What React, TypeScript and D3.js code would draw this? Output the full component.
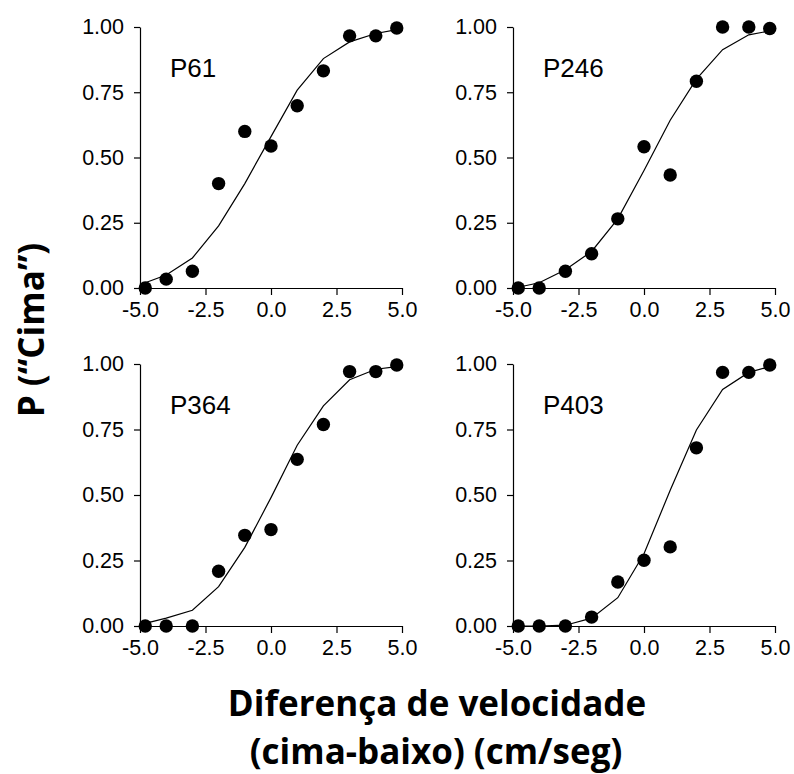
import React, { useEffect, useRef } from "react";
import * as d3 from "d3";

// velocity difference levels (cm/seg)
const xLevels = [-4.8, -4, -3, -2, -1, 0, 1, 2, 3, 4, 4.8];

const panelNames = ["P61", "P246", "P364", "P403"];

// observed proportions "Cima"
const obsP61 = [0, 0.034, 0.064, 0.4, 0.6, 0.544, 0.698, 0.832, 0.966, 0.966, 0.996];
const obsP246 = [0, 0, 0.064, 0.131, 0.265, 0.541, 0.433, 0.792, 1.0, 1.0, 0.994];
const obsP364 = [0, 0, 0, 0.209, 0.346, 0.368, 0.636, 0.769, 0.971, 0.971, 0.996];
const obsP403 = [0, 0, 0, 0.034, 0.168, 0.251, 0.302, 0.68, 0.968, 0.968, 0.996];

// fitted curves
const fitP61 = [0.02, 0.05, 0.115, 0.238, 0.4, 0.58, 0.758, 0.879, 0.943, 0.975, 0.99];
const fitP246 = [0.003, 0.02, 0.07, 0.14, 0.265, 0.45, 0.643, 0.8, 0.913, 0.97, 0.985];
const fitP364 = [0.01, 0.03, 0.06, 0.15, 0.3, 0.49, 0.69, 0.84, 0.94, 0.98, 0.99];
const fitP403 = [0, 0, 0.003, 0.03, 0.108, 0.276, 0.518, 0.748, 0.903, 0.968, 0.99];

const xTicks = [-5, -2.5, 0, 2.5, 5];
const yTicks = [0, 0.25, 0.5, 0.75, 1];

const observed = [obsP61, obsP246, obsP364, obsP403];
const fitted = [fitP61, fitP246, fitP364, fitP403];

export default function App() {
  const ref = useRef<SVGSVGElement>(null);

  useEffect(() => {
    const svg = d3.select(ref.current);
    svg.selectAll("*").remove();

    const tickFont = "'Liberation Sans', Arial, sans-serif";
    const titleFont = "'Open Sans', Lato, sans-serif";

    // panel origins: left x of axis, top (y=1) and bottom (y=0)
    const cols = [140, 513];
    const rows = [
      { top: 27, bottom: 288 },
      { top: 364, bottom: 626 },
    ];
    const panelW = 262;

    panelNames.forEach((name, i) => {
      const col = cols[i % 2];
      const row = rows[Math.floor(i / 2)];

      const x = d3.scaleLinear().domain([-5, 5]).range([col, col + panelW]);
      const y = d3.scaleLinear().domain([0, 1]).range([row.bottom, row.top]);

      const g = svg.append("g");

      const xAxis = g
        .append("g")
        .attr("transform", "translate(0," + row.bottom + ")")
        .call(
          d3
            .axisBottom(x)
            .tickValues(xTicks)
            .tickSizeInner(7)
            .tickSizeOuter(0)
            .tickPadding(7)
            .tickFormat((d) => (+d).toFixed(1))
        );
      xAxis.selectAll("text").style("font-family", tickFont).style("font-size", "21.5px").attr("fill", "#000");

      const yAxis = g
        .append("g")
        .attr("transform", "translate(" + col + ",0)")
        .call(
          d3
            .axisLeft(y)
            .tickValues(yTicks)
            .tickSizeInner(6)
            .tickSizeOuter(0)
            .tickPadding(10)
            .tickFormat((d) => (+d).toFixed(2))
        );
      yAxis.selectAll("text").style("font-family", tickFont).style("font-size", "21.5px").attr("fill", "#000");

      g.selectAll(".domain").attr("stroke", "#000").attr("stroke-width", 1.2);
      g.selectAll(".tick line").attr("stroke", "#000").attr("stroke-width", 1.2);

      const line = d3
        .line<number>()
        .x((d, j) => x(xLevels[j]))
        .y((d) => y(d));

      g.append("path")
        .datum(fitted[i])
        .attr("d", line)
        .attr("fill", "none")
        .attr("stroke", "#000")
        .attr("stroke-width", 1.2);

      g.selectAll("circle")
        .data(observed[i])
        .enter()
        .append("circle")
        .attr("cx", (d, j) => x(xLevels[j]))
        .attr("cy", (d) => y(d))
        .attr("r", 6.7)
        .attr("fill", "#000");

      g.append("text")
        .attr("x", col + 30)
        .attr("y", row.top + 50)
        .style("font-family", tickFont)
        .style("font-size", "26px")
        .attr("fill", "#000")
        .text(name);
    });

    // axis titles
    svg
      .append("text")
      .attr("x", 437)
      .attr("y", 716)
      .attr("text-anchor", "middle")
      .style("font-family", titleFont)
      .style("font-weight", "bold")
      .style("font-size", "35px")
      .text("Diferença de velocidade");

    svg
      .append("text")
      .attr("x", 436)
      .attr("y", 764)
      .attr("text-anchor", "middle")
      .style("font-family", titleFont)
      .style("font-weight", "bold")
      .style("font-size", "35px")
      .text("(cima-baixo) (cm/seg)");

    svg
      .append("text")
      .attr("transform", "translate(44,330) rotate(-90)")
      .attr("text-anchor", "middle")
      .style("font-family", titleFont)
      .style("font-weight", "bold")
      .style("font-size", "35px")
      .text("P (\u201CCima\u201D)");
  }, []);

  return (
    <svg
      ref={ref}
      width={794}
      height={774}
      style={{ position: "absolute", left: 0, top: 0, background: "#fff" }}
    />
  );
}
